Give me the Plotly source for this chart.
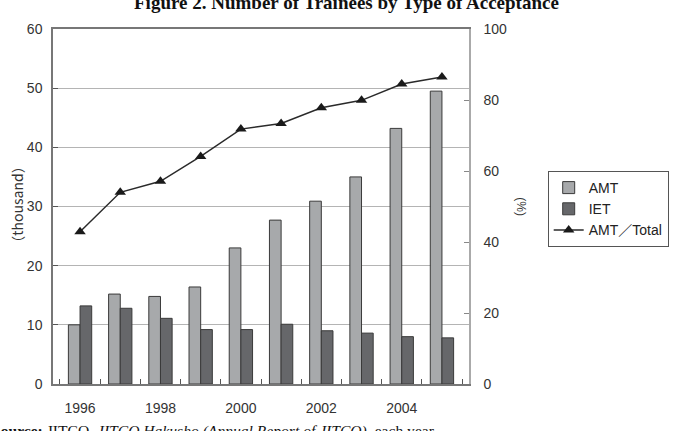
import plotly.graph_objects as go

years = ["1996", "1997", "1998", "1999", "2000", "2001", "2002", "2003", "2004", "2005"]
tick_text = ["1996", "", "1998", "", "2000", "", "2002", "", "2004", ""]
amt = [10.0, 15.2, 14.8, 16.4, 23.0, 27.7, 30.9, 35.0, 43.2, 49.5]
iet = [13.2, 12.8, 11.1, 9.2, 9.2, 10.1, 9.0, 8.6, 8.0, 7.8]
amt_share = [42.9, 54.0, 57.1, 64.1, 71.8, 73.4, 77.8, 79.9, 84.5, 86.5]

W, H = 680, 431
L, R, T, B = 53.3, 680 - 469.3, 29, 47
PW, PH = W - L - R, H - T - B

font_sans = "Liberation Sans, Arial, Noto Sans CJK JP, sans-serif"
font_cjk = "Noto Sans CJK JP, Liberation Sans, sans-serif"

fig = go.Figure()
fig.add_trace(go.Bar(x=years, y=amt, name="AMT", marker=dict(color="#a7a9ab", line=dict(color="#3a3a3a", width=1))))
fig.add_trace(go.Bar(x=years, y=iet, name="IET", marker=dict(color="#66676a", line=dict(color="#3a3a3a", width=1))))
fig.add_trace(go.Scatter(x=years, y=amt_share, name="AMT／Total", yaxis="y2", mode="lines+markers",
                         line=dict(color="#2a2a2a", width=1.5),
                         marker=dict(symbol="triangle-up", size=10, color="#1a1a1a")))

fig.update_layout(
    width=W, height=H,
    margin=dict(l=L, r=R, t=T, b=B, pad=0, autoexpand=False),
    paper_bgcolor="white", plot_bgcolor="white",
    barmode="group", bargap=0.42, bargroupgap=0,
    font=dict(family=font_sans, size=14, color="#333"),
    showlegend=True,
    legend=dict(x=(548 - L) / PW, y=1 - (171 - T) / PH, xanchor="left", yanchor="top",
                bordercolor="#555", borderwidth=1, bgcolor="white",
                font=dict(size=14, color="#222"), tracegroupgap=1, itemwidth=30),
    xaxis=dict(type="category", tickmode="array", tickvals=years, ticktext=tick_text,
               tickson="boundaries", ticks="inside", ticklen=5, tickcolor="#555",
               showline=True, linecolor="#777", linewidth=1.5, mirror=True,
               showgrid=False, ticklabelstandoff=10, tickangle=0, automargin=False,
               tickfont=dict(size=14, color="#333")),
    yaxis=dict(range=[0, 60], dtick=10, ticks="inside", ticklen=5, tickcolor="#555",
               showline=True, linecolor="#777", linewidth=1.5,
               showgrid=True, gridcolor="#b4b4b4", gridwidth=1, zeroline=False,
               ticklabelstandoff=6, automargin=False, tickfont=dict(size=14, color="#333")),
    yaxis2=dict(range=[0, 100], dtick=20, overlaying="y", side="right",
                ticks="inside", ticklen=5, tickcolor="#888",
                showline=True, linecolor="#aaa", linewidth=1.5,
                showgrid=False, zeroline=False, ticklabelstandoff=10, automargin=False,
                tickfont=dict(size=14, color="#333")),
)

annotations = [
    dict(text="（thousand）", xref="paper", yref="paper", x=(17 - L) / PW, y=1 - (205 - T) / PH,
         xanchor="center", yanchor="middle", textangle=-90, showarrow=False,
         font=dict(size=14, color="#333", family=font_cjk)),
    dict(text="(%)", xref="paper", yref="paper", x=(521 - L) / PW, y=1 - (207 - T) / PH,
         xanchor="center", yanchor="middle", textangle=90, showarrow=False,
         font=dict(size=12, color="#333", family=font_sans)),
    dict(text="<b>Figure 2. Number of Trainees by Type of Acceptance</b>", xref="paper", yref="paper",
         x=(347 - L) / PW, y=1 + (T - 15) / PH, xanchor="center", yanchor="bottom", showarrow=False,
         font=dict(size=19, color="#111", family="Liberation Serif, Times New Roman, serif")),
    dict(text="<b>Source:</b> JITCO, <i>JITCO Hakusho (Annual Report of JITCO)</i>, each year.",
         xref="paper", yref="paper", x=(-10 - L) / PW, y=-(420 - (H - B)) / PH,
         xanchor="left", yanchor="top", showarrow=False,
         font=dict(size=15.6, color="#111", family="Liberation Serif, Times New Roman, serif")),
]
fig.update_layout(annotations=annotations)

fig.write_html("out.html")
